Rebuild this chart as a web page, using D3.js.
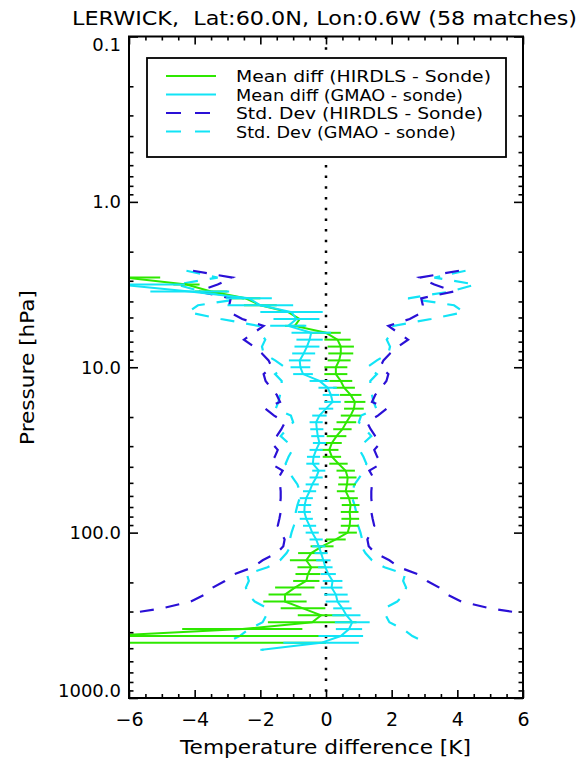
<!DOCTYPE html>
<html><head><meta charset="utf-8">
<script src="https://cdn.jsdelivr.net/npm/d3@7/dist/d3.min.js"></script>
<style>body{margin:0;background:#fff}</style>
</head><body><svg id="c" width="581" height="764"></svg>
<script>
// ---- data (pressure levels, hPa; top to bottom) ----
const pressure = [2.61, 2.87, 3.16, 3.48, 3.83, 4.22, 4.64, 5.11, 5.62, 6.19, 6.81, 7.50, 8.25, 9.09, 10.0, 11.0, 12.1, 13.3, 14.7, 16.2, 17.8, 19.6, 21.5, 23.7, 26.1, 28.7, 31.6, 34.8, 38.3, 42.2, 46.4, 51.1, 56.2, 61.9, 68.1, 75.0, 82.5, 90.9, 100, 110, 121, 133, 147, 162, 178, 196, 215, 237, 261, 287, 316, 348, 383, 422, 464, 511];

const hirdlsMean = [null, -6.1, -4.25, -3.5, -2.45, -2.0, -1.15, -0.8, -0.95, 0.0, 0.35, 0.45, 0.45, 0.4, 0.3, 0.3, 0.45, 0.55, 0.75, 0.88, 0.85, 0.75, 0.62, 0.5, 0.32, 0.18, 0.1, 0.18, 0.38, 0.6, 0.66, 0.64, 0.6, 0.7, 0.75, 0.72, 0.74, 0.72, 0.66, 0.3, -0.12, -0.45, -0.6, -0.45, -0.55, -0.6, -0.95, -1.25, -1.25, -0.7, -0.15, -0.42, -2.55, -6.8, -7.2, null];
const hirdlsErr = [null, 1.05, 0.4, 0.5, 0.45, 0.5, 0.55, 0.45, 0.3, 0.45, 0.4, 0.4, 0.38, 0.35, 0.35, 0.35, 0.35, 0.33, 0.33, 0.32, 0.3, 0.3, 0.3, 0.28, 0.3, 0.3, 0.28, 0.28, 0.28, 0.28, 0.27, 0.27, 0.27, 0.27, 0.27, 0.27, 0.27, 0.27, 0.28, 0.3, 0.35, 0.4, 0.5, 0.42, 0.38, 0.4, 0.6, 0.5, 0.66, 0.68, 0.71, 1.35, 1.83, 7.8, 7.2, null];

const gmaoMean = [null, null, -6.3, -4.15, -2.35, -2.0, -1.05, -0.9, -1.15, -0.45, -0.5, -0.58, -0.68, -0.8, -0.78, -0.7, -0.2, 0.05, 0.15, 0.2, 0.0, -0.2, -0.3, -0.28, -0.25, -0.2, -0.3, -0.38, -0.4, -0.22, -0.3, -0.42, -0.5, -0.6, -0.65, -0.66, -0.6, -0.5, -0.42, -0.3, -0.22, -0.15, -0.08, -0.02, 0.07, 0.2, 0.17, 0.3, 0.35, 0.5, 0.62, 0.8, 0.7, 0.45, -0.15, -1.95];
const gmaoErr = [null, null, 2.0, 1.2, 0.7, 1.0, 0.95, 0.7, 0.55, 0.6, 0.4, 0.38, 0.35, 0.33, 0.3, 0.3, 0.3, 0.28, 0.25, 0.25, 0.22, 0.22, 0.2, 0.2, 0.2, 0.2, 0.2, 0.2, 0.2, 0.2, 0.2, 0.2, 0.2, 0.2, 0.2, 0.2, 0.2, 0.2, 0.2, 0.2, 0.2, 0.2, 0.22, 0.22, 0.23, 0.3, 0.33, 0.36, 0.36, 0.28, 0.43, 0.53, 0.4, 0.68, 1.15, 0.05];

const hirdlsStd = [4.05, 2.85, 3.3, 3.9, 2.9, 2.95, 2.95, 2.55, 1.9, 2.2, 2.5, 2.2, 1.95, 1.75, 1.65, 1.9, 1.84, 1.68, 1.5, 1.4, 1.85, 1.58, 1.25, 1.36, 1.5, 1.65, 1.47, 1.56, 1.68, 1.32, 1.44, 1.4, 1.38, 1.38, 1.4, 1.38, 1.42, 1.47, 1.37, 1.26, 1.3, 1.5, 1.93, 2.23, 2.78, 3.08, 3.45, 3.7, 4.12, 5.0, 6.35, null, null, null, null, null];
const gmaoStd = [4.25, 3.3, 4.55, 3.8, 2.5, 3.9, 4.2, 3.2, 2.05, 2.0, 1.85, 1.95, 1.9, 1.55, 1.25, 1.55, 1.35, 1.35, 1.4, 1.45, 1.53, 1.07, 1.0, 1.2, 1.38, 1.15, 1.02, 1.14, 1.23, 1.13, 1.02, 0.87, 0.8, 0.8, 0.87, 0.92, 0.92, 0.98, 1.05, 1.1, 1.08, 1.2, 1.4, 1.78, 2.41, 2.35, 2.44, 2.38, 2.17, 1.78, 1.82, 1.93, 2.35, 2.63, 3.05, null];

const xTicks = [-6, -4, -2, 0, 2, 4, 6];
const yTicks = [0.1, 1, 10, 100, 1000];
const yTickLabels = ["0.1", "1.0", "10.0", "100.0", "1000.0"];
const legendLabels = ["Mean diff (HIRDLS - Sonde)", "Mean diff (GMAO - sonde)", "Std. Dev (HIRDLS - Sonde)", "Std. Dev (GMAO - sonde)"];
const titleText = "LERWICK,  Lat:60.0N, Lon:0.6W (58 matches)";

// ---- styles ----
const GREEN = "#2ee800", CYAN = "#12e4f6", BLUE = "#2a10d6";
const FONT = "DejaVu Sans, sans-serif";

const svg = d3.select("#c");
const L = 129, R = 523, T = 36.5, B = 698;
const x = d3.scaleLinear().domain([-6, 6]).range([L, R]);
const y = d3.scaleLog().domain([0.1, 1000]).range([T, B]);

svg.append("defs").append("clipPath").attr("id", "clip")
  .append("rect").attr("x", L).attr("y", T).attr("width", R - L).attr("height", B - T);

const plot = svg.append("g").attr("clip-path", "url(#clip)");

// zero dotted line
plot.append("line").attr("x1", x(0)).attr("x2", x(0)).attr("y1", y(0.1)).attr("y2", y(1000))
  .attr("stroke", "#000").attr("stroke-width", 2.5).attr("stroke-dasharray", "2.5,8.2");

function series(vals) {
  return pressure.map((p, i) => ({ p, v: vals[i] }));
}
const lineGen = d3.line().defined(d => d.v != null).x(d => x(d.v)).y(d => y(d.p));

function drawStd(vals, color) {
  const pos = series(vals);
  const neg = pressure.map((p, i) => ({ p, v: vals[i] == null ? null : -vals[i] }));
  [pos, neg].forEach(s => {
    plot.append("path").datum(s).attr("d", lineGen).attr("fill", "none")
      .attr("stroke", color).attr("stroke-width", 2.2).attr("stroke-dasharray", "14,12");
  });
}
drawStd(gmaoStd, CYAN);
drawStd(hirdlsStd, BLUE);

function drawMean(vals, errs, color) {
  plot.append("path").datum(series(vals)).attr("d", lineGen).attr("fill", "none")
    .attr("stroke", color).attr("stroke-width", 2);
  const bars = pressure.map((p, i) => ({ p, v: vals[i], e: errs[i] })).filter(d => d.v != null);
  plot.selectAll(null).data(bars).enter().append("line")
    .attr("x1", d => x(d.v - d.e)).attr("x2", d => x(d.v + d.e))
    .attr("y1", d => y(d.p)).attr("y2", d => y(d.p))
    .attr("stroke", color).attr("stroke-width", 2);
}
drawMean(hirdlsMean, hirdlsErr, GREEN);
drawMean(gmaoMean, gmaoErr, CYAN);

// ---- axes ----
const xMinor = d3.range(-6, 6.01, 0.5).filter(v => Math.abs(v / 2 - Math.round(v / 2)) > 1e-6);
const yMinor = [];
[0.1, 1, 10, 100].forEach(d => { for (let k = 2; k <= 9; k++) yMinor.push(d * k); });

function styleAxis(g) {
  g.select(".domain").remove();
  g.selectAll(".tick line").attr("stroke", "#000").attr("stroke-width", 1.6);
  g.selectAll("text").attr("font-family", FONT).attr("font-size", 18).attr("fill", "#000");
}
svg.append("g").attr("transform", `translate(0,${B})`)
  .call(d3.axisBottom(x).tickValues(xTicks).tickSize(-8).tickPadding(15)).call(styleAxis)
  .selectAll("text").attr("font-size", 19);
svg.append("g").attr("transform", `translate(0,${B})`)
  .call(d3.axisBottom(x).tickValues(xMinor).tickSize(-4).tickFormat("")).call(styleAxis);
svg.append("g").attr("transform", `translate(0,${T})`)
  .call(d3.axisTop(x).tickValues(xTicks).tickSize(-8).tickFormat("")).call(styleAxis);
svg.append("g").attr("transform", `translate(0,${T})`)
  .call(d3.axisTop(x).tickValues(xMinor).tickSize(-4).tickFormat("")).call(styleAxis);

const yl = svg.append("g").attr("transform", `translate(${L},0)`)
  .call(d3.axisLeft(y).tickValues(yTicks).tickSize(-9).tickPadding(8).tickFormat((d, i) => yTickLabels[i])).call(styleAxis);
yl.selectAll(".tick text").attr("dy", (d, i) => i === 0 ? "0.75em" : (i === 4 ? "-0.1em" : "0.32em"));
svg.append("g").attr("transform", `translate(${L},0)`)
  .call(d3.axisLeft(y).tickValues(yMinor).tickSize(-4.5).tickFormat("")).call(styleAxis);
svg.append("g").attr("transform", `translate(${R},0)`)
  .call(d3.axisRight(y).tickValues(yTicks).tickSize(-9).tickFormat("")).call(styleAxis);
svg.append("g").attr("transform", `translate(${R},0)`)
  .call(d3.axisRight(y).tickValues(yMinor).tickSize(-4.5).tickFormat("")).call(styleAxis);

// frame
svg.append("rect").attr("x", L).attr("y", T).attr("width", R - L).attr("height", B - T)
  .attr("fill", "none").attr("stroke", "#000").attr("stroke-width", 2);

// titles
svg.append("text").attr("x", 72).attr("y", 25)
  .attr("font-family", FONT).attr("font-size", 20).attr("xml:space", "preserve")
  .attr("textLength", 505).attr("lengthAdjust", "spacingAndGlyphs")
  .style("white-space", "pre").text(titleText);
svg.append("text").attr("x", 180).attr("y", 754)
  .attr("font-family", FONT).attr("font-size", 19)
  .attr("textLength", 291).attr("lengthAdjust", "spacingAndGlyphs")
  .text("Temperature difference [K]");
svg.append("text").attr("transform", "translate(34,445) rotate(-90)")
  .attr("font-family", FONT).attr("font-size", 19)
  .attr("textLength", 155).attr("lengthAdjust", "spacingAndGlyphs")
  .text("Pressure [hPa]");

// legend
const lg = svg.append("g");
lg.append("rect").attr("x", 147).attr("y", 58).attr("width", 359).attr("height", 99)
  .attr("fill", "#fff").attr("stroke", "#000").attr("stroke-width", 1.8);
const legColors = [GREEN, CYAN, BLUE, CYAN];
const legDash = [null, null, "15,14", "15,14"];
const legWidth = [255, 227, 247, 220];
const rowY = [76, 94.5, 113, 131.5];
legendLabels.forEach((t, i) => {
  lg.append("line").attr("x1", 166).attr("x2", 216).attr("y1", rowY[i]).attr("y2", rowY[i])
    .attr("stroke", legColors[i]).attr("stroke-width", 2).attr("stroke-dasharray", legDash[i]);
  lg.append("text").attr("x", 236).attr("y", rowY[i] + 6).attr("font-family", FONT)
    .attr("font-size", 16.5).attr("textLength", legWidth[i]).attr("lengthAdjust", "spacingAndGlyphs").text(t);
});
</script></body></html>
